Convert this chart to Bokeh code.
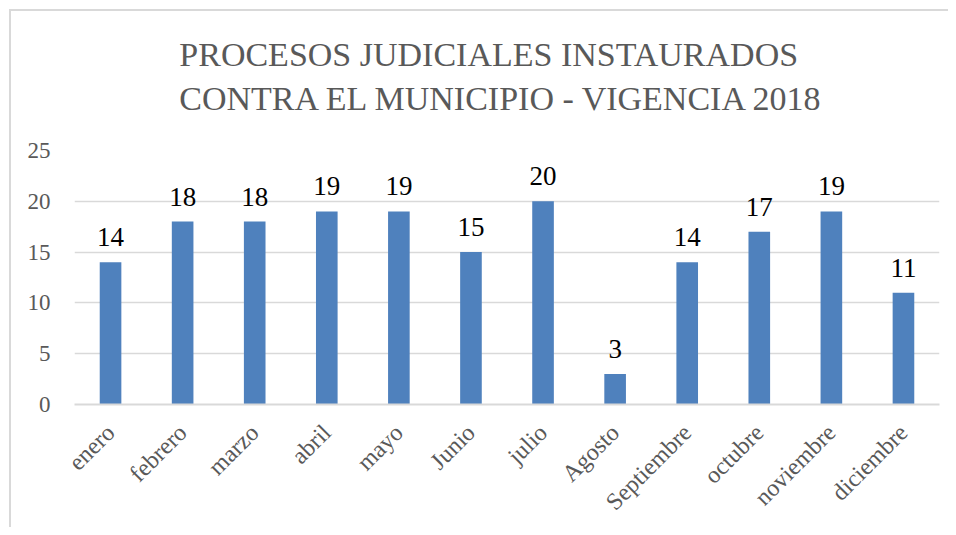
from bokeh.plotting import figure
from bokeh.models import Range1d, FactorRange, SingleIntervalTicker, ColumnDataSource
from bokeh.core.properties import value
from bokeh.embed import file_html
from bokeh.resources import INLINE
import math

months = ["enero", "febrero", "marzo", "abril", "mayo", "Junio", "julio",
          "Agosto", "Septiembre", "octubre", "noviembre", "diciembre"]
counts = [14, 18, 18, 19, 19, 15, 20, 3, 14, 17, 19, 11]
title_lines = ["PROCESOS JUDICIALES INSTAURADOS", "CONTRA EL MUNICIPIO  - VIGENCIA 2018"]

FONT = "Liberation Serif"

src = ColumnDataSource(dict(m=months, v=counts, t=[str(c) for c in counts]))

p = figure(x_range=FactorRange(*months, range_padding=0), y_range=Range1d(0, 25),
           frame_width=865, frame_height=254, output_backend="svg", toolbar_location=None,
           min_border_left=74, min_border_right=9, min_border_top=149, min_border_bottom=122)

p.title.text = "\n".join(title_lines)
p.title.align = "center"
p.title.text_font = FONT
p.title.text_font_size = "34px"
p.title.text_font_style = "normal"
p.title.text_color = "#595959"
p.title.text_line_height = 1.2
p.title.standoff = 67

p.vbar(x="m", top="v", width=0.3, source=src, fill_color="#4f81bd", line_color=None)
p.text(x="m", y="v", text="t", source=src, text_align="center", text_baseline="bottom",
       y_offset=-16, text_font=value(FONT), text_font_size="27px", text_color="#000000")

p.outline_line_color = None
p.border_fill_color = None
p.background_fill_color = "white"
p.xgrid.grid_line_color = None
p.ygrid.grid_line_color = "#d9d9d9"
p.ygrid.grid_line_width = 1.5
p.yaxis.ticker = SingleIntervalTicker(interval=5)

p.yaxis.axis_line_color = None
p.yaxis.major_tick_line_color = None
p.yaxis.minor_tick_line_color = None
p.yaxis.major_tick_out = 0
p.yaxis.major_label_text_font = FONT
p.yaxis.major_label_text_font_size = "23px"
p.yaxis.major_label_text_color = "#595959"
p.yaxis.major_label_standoff = 20

p.xaxis.axis_line_color = "#d9d9d9"
p.xaxis.axis_line_width = 2
p.xaxis.major_tick_line_color = None
p.xaxis.minor_tick_line_color = None
p.xaxis.major_tick_out = 0
p.xaxis.major_label_orientation = math.pi / 4
p.xaxis.major_label_text_font = FONT
p.xaxis.major_label_text_font_size = "24px"
p.xaxis.major_label_text_color = "#595959"
p.xaxis.major_label_standoff = 24

p.styles = {
    "background-color": "white",
    "background-image": "linear-gradient(#d9d9d9, #d9d9d9), linear-gradient(#d9d9d9, #d9d9d9)",
    "background-size": "100% 2px, 2px 100%",
    "background-position": "9px 9px, 9px 9px",
    "background-repeat": "no-repeat",
}

open("out.html", "w").write(file_html(p, INLINE))
